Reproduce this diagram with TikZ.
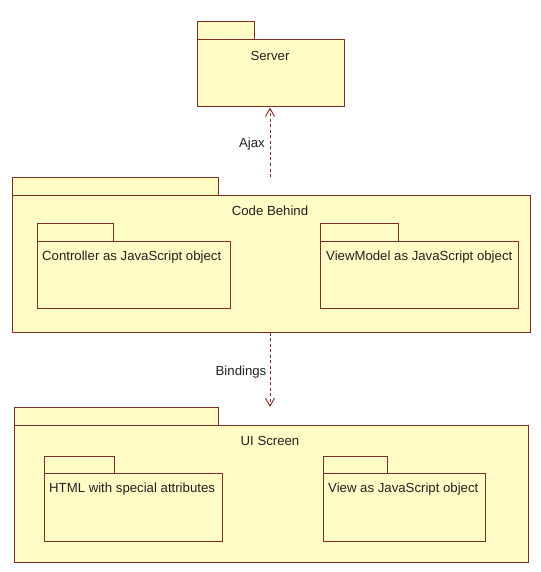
\documentclass[tikz,border=0pt]{standalone}
\usepackage{fontspec}
\setmainfont{Liberation Sans}
\usetikzlibrary{fit,arrows.meta}
\definecolor{pkgfill}{RGB}{255,251,196}
\definecolor{pkgline}{RGB}{130,45,35}
\definecolor{txt}{RGB}{34,34,34}
\begin{document}
\begin{tikzpicture}[x=1pt,y=-1pt,
  pkg/.style={draw=pkgline, fill=pkgfill, line width=1pt, rectangle, inner sep=0pt},
  lbl/.style={font=\fontsize{13.2}{15}\selectfont, text=txt, inner sep=0pt},
  dep/.style={draw=pkgline, line width=1pt, dash pattern=on 3pt off 2.5pt,
    -{Straight Barb[length=8pt,width=9pt,line width=0.9pt]}}]
\useasboundingbox (0,0) rectangle (540,572);
% Server
\node[pkg, fit={(197,22)(254,40)}] (srvtab) {};
\node[pkg, fit={(197,40)(344,107)}] (srv) {};
\node[lbl] (srvlbl) at (270,56) {Server};
% Code Behind
\node[pkg, fit={(12,177)(218,195)}] (cbtab) {};
\node[pkg, fit={(12,195)(530,332)}] (cb) {};
\node[lbl] (cblbl) at (270,211) {Code Behind};
\node[pkg, fit={(37,223)(113,241)}] (ctltab) {};
\node[pkg, fit={(37,241)(230,308)}] (ctl) {};
\node[lbl, anchor=west] (ctllbl) at (42,257) {Controller as JavaScript object};
\node[pkg, fit={(320,223)(398,241)}] (vmtab) {};
\node[pkg, fit={(320,241)(518,308)}] (vm) {};
\node[lbl, anchor=west] (vmlbl) at (326,257) {ViewModel as JavaScript object};
% UI Screen
\node[pkg, fit={(14,407)(218,425)}] (uitab) {};
\node[pkg, fit={(14,425)(528,562)}] (ui) {};
\node[lbl] (uilbl) at (270,441) {UI Screen};
\node[pkg, fit={(44,456)(114,473)}] (htmltab) {};
\node[pkg, fit={(44,473)(222,541)}] (html) {};
\node[lbl, anchor=west] (htmllbl) at (49,489) {HTML with special attributes};
\node[pkg, fit={(323,456)(387,473)}] (viewtab) {};
\node[pkg, fit={(323,473)(485,541)}] (view) {};
\node[lbl, anchor=west] (viewlbl) at (328,489) {View as JavaScript object};
% connectors
\coordinate (cbtop) at (270,177);
\coordinate (uitop) at (270,407);
\draw[dep] (cbtop) -- (cbtop |- srv.south);
\draw[dep] (cb.south -| uitop) -- (uitop);
\node[lbl] (ajax) at (252,144) {Ajax};
\node[lbl] (bind) at (241,372) {Bindings};
\end{tikzpicture}
\end{document}
